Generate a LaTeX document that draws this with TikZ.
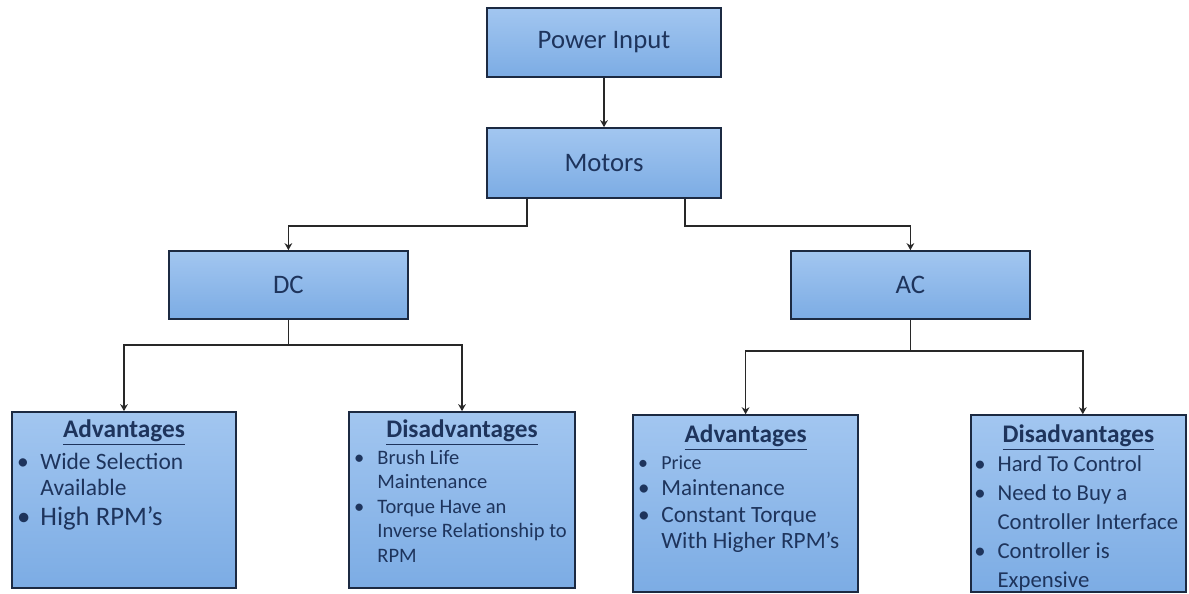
\documentclass[tikz,border=0pt]{standalone}
\usepackage{fontspec}
\setmainfont{Carlito}
\usetikzlibrary{arrows.meta,shadows}
\definecolor{boxtop}{RGB}{162,198,240}
\definecolor{boxbot}{RGB}{124,172,228}
\definecolor{boxline}{RGB}{28,42,66}
\definecolor{navy}{RGB}{30,52,92}
\definecolor{wirecol}{RGB}{40,40,40}
\newlength{\bulletw}\setlength{\bulletw}{0.58cm}
\newcommand{\listhead}[1]{{\centering\fontsize{18}{22}\selectfont\underline{\textbf{#1}}\par}}
\newcommand{\listitem}[3]{\par\noindent\fontsize{#1}{#2}\selectfont\hangindent=\bulletw\hangafter=1\makebox[\bulletw][l]{\textbullet}#3\par}
\newcommand{\listpanel}[3]{\parbox[c][#2][t]{#1}{\hyphenpenalty=10000\rightskip=0pt plus 1fil #3}}
\begin{document}
\begin{tikzpicture}[>={Stealth[length=5pt,width=5.5pt]},x=1cm,y=1cm,font=\fontsize{19}{23}\selectfont]
  \tikzset{box/.style={draw=boxline, line width=1.2pt, top color=boxtop, bottom color=boxbot, text=navy, inner sep=0pt,
      drop shadow={shadow xshift=0.7pt, shadow yshift=-0.9pt, opacity=0.35}},
    wire/.style={draw=wirecol, line width=1pt, ->}}
  \useasboundingbox (0,0) rectangle (29.725,-14.85);
  \node[box, minimum width=5.85cm, minimum height=1.725cm] (power) at (15.1,-1.06) {Power Input};
  \node[box, minimum width=5.85cm, minimum height=1.75cm] (motors) at (15.1,-4.075) {Motors};
  \node[box, minimum width=5.975cm, minimum height=1.7cm] (dc) at (7.21,-7.125) {DC};
  \node[box, minimum width=5.975cm, minimum height=1.7cm] (ac) at (22.76,-7.125) {AC};
  % DC branch
  \node[box, minimum width=5.6cm, minimum height=4.4cm] (dcadv) at (3.1,-12.5)
    {\listpanel{5.34cm}{4.2cm}{\vspace*{0.1cm}\listhead{Advantages}\vspace{4pt}
      \listitem{16.7}{18.5}{Wide Selection\newline Available}
      \listitem{19}{21.3}{High RPM's}}};
  \node[box, minimum width=5.65cm, minimum height=4.4cm] (dcdis) at (11.55,-12.5)
    {\listpanel{5.39cm}{4.2cm}{\vspace*{0.1cm}\listhead{Disadvantages}\vspace{1.5pt}
      \listitem{14.6}{17.4}{Brush Life\newline Maintenance}
      \listitem{14.6}{17.4}{Torque Have an\newline Inverse Relationship to\newline RPM}}};
  % AC branch
  \node[box, minimum width=5.625cm, minimum height=4.425cm] (acadv) at (18.64,-12.59)
    {\listpanel{5.37cm}{4.22cm}{\vspace*{0.15cm}\listhead{Advantages}
      \listitem{14.2}{19.2}{Price}
      \listitem{16.4}{18.5}{Maintenance}
      \listitem{16.6}{18.8}{Constant Torque\newline With Higher RPM's}}};
  \node[box, minimum width=5.375cm, minimum height=4.425cm] (acdis) at (26.96,-12.59)
    {\listpanel{5.2cm}{4.22cm}{\vspace*{0.15cm}\listhead{Disadvantages}
      \listitem{16.2}{20.6}{Hard To Control}
      \listitem{16.2}{20.6}{Need to Buy a\newline Controller Interface}
      \listitem{16.2}{20.6}{Controller is\newline Expensive}}};
  % connectors
  \draw[wire] (power) -- (motors);
  \draw[wire] ([xshift=-1.925cm]motors.south) -- ++(0,-0.675) -| (dc.north);
  \draw[wire] ([xshift=2.025cm]motors.south) -- ++(0,-0.675) -| (ac.north);
  \draw[wire] (dc.south) -- ++(0,-0.625) -| (dcadv.north);
  \draw[wire] (dc.south) -- ++(0,-0.625) -| (dcdis.north);
  \draw[wire] (ac.south) -- ++(0,-0.775) -| (acadv.north);
  \draw[wire] (ac.south) -- ++(0,-0.775) -| ([xshift=0.11cm]acdis.north);
\end{tikzpicture}
\end{document}
